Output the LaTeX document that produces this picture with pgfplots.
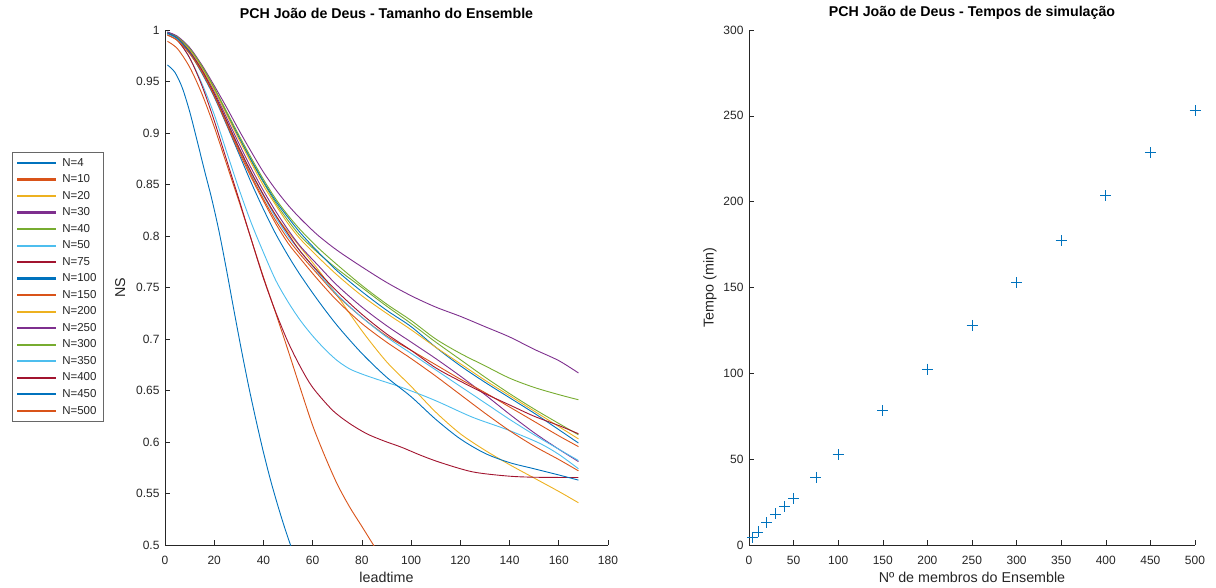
\documentclass[border=0pt]{standalone}
\usepackage{fontspec}
\setmainfont{Liberation Sans}
\usepackage{pgfplots}
\pgfplotsset{compat=1.18}
\definecolor{c1}{rgb}{0,0.447,0.741}
\definecolor{c2}{rgb}{0.85,0.325,0.098}
\definecolor{c3}{rgb}{0.929,0.694,0.125}
\definecolor{c4}{rgb}{0.494,0.184,0.556}
\definecolor{c5}{rgb}{0.466,0.674,0.188}
\definecolor{c6}{rgb}{0.301,0.745,0.933}
\definecolor{c7}{rgb}{0.635,0.078,0.184}
\definecolor{axgray}{rgb}{0.15,0.15,0.15}
\pgfplotsset{
  mystyle/.style={
    scale only axis,
    axis lines*=left,
    tick align=inside,
    axis line style={draw=axgray, line width=0.6pt},
    major tick length=5pt,
    every tick/.style={axgray, line width=0.6pt},
    ticklabel style={font=\fontsize{12}{14}\selectfont, text=axgray},
    xticklabel style={yshift=-8pt},
    yticklabel style={xshift=-2pt},
    label style={font=\fontsize{14.3}{16}\selectfont, text=axgray},
    title style={font=\bfseries\fontsize{14.2}{16}\selectfont, yshift=1.5pt},
    /pgf/number format/assume math mode=true,
    clip=true,
  }
}
\begin{document}
\begin{tikzpicture}[x=1pt,y=1pt]
\path[use as bounding box] (0,0) rectangle (1216,587);
\begin{axis}[mystyle,
  at={(165pt,42pt)}, anchor=south west,
  width=443pt, height=515pt,
  xmin=0, xmax=180, ymin=0.5, ymax=1,
  xtick={0,20,...,180},
  ytick={0.5,0.55,0.6,0.65,0.7,0.75,0.8,0.85,0.9,0.95,1},
  yticklabels={0.5,0.55,0.6,0.65,0.7,0.75,0.8,0.85,0.9,0.95,1},
  xlabel={leadtime}, ylabel={NS},
  ylabel style={yshift=4pt},
  title={PCH João de Deus - Tamanho do Ensemble},
  legend style={at={(-0.345,0.763)}, anchor=north west, draw=axgray!70, line width=0.5pt,
    font=\fontsize{11.5}{13}\selectfont, text=axgray,
    row sep=3.0pt, column sep=4pt, inner xsep=5pt, inner ysep=4pt,
    cells={anchor=west}},
  legend image code/.code={\fill[#1] (0pt,-0.6pt) rectangle (38pt,0.6pt);},
  every axis plot/.append style={line width=0.9pt, smooth, tension=0.5, no marks},
]
\addplot[color=c1] coordinates {(1,0.966)(4,0.959)(7,0.944)(10,0.921)(13,0.893)(16,0.864)(19,0.836)(22,0.804)(25,0.767)(28,0.728)(31,0.69)(34,0.654)(37,0.621)(40,0.59)(43,0.562)(46,0.537)(49,0.514)(52,0.493)};
\addlegendentry{N=4}
\addplot[color=c2] coordinates {(1,0.989)(5,0.982)(10,0.964)(15,0.938)(20,0.906)(25,0.87)(30,0.834)(35,0.797)(40,0.76)(45,0.725)(50,0.689)(55,0.652)(60,0.616)(65,0.586)(70,0.559)(75,0.537)(80,0.518)(86,0.495)};
\addlegendentry{N=10}
\addplot[color=c3] coordinates {(1,0.996)(5,0.991)(10,0.978)(15,0.96)(20,0.938)(25,0.912)(30,0.886)(35,0.862)(40,0.84)(45,0.82)(50,0.804)(55,0.789)(62,0.768)(70,0.742)(80,0.708)(90,0.678)(100,0.654)(110,0.629)(120,0.608)(130,0.592)(140,0.578)(150,0.565)(160,0.552)(168,0.541)};
\addlegendentry{N=20}
\addplot[color=c4] coordinates {(1,0.997)(5,0.992)(10,0.98)(15,0.962)(20,0.94)(25,0.915)(30,0.89)(35,0.866)(40,0.844)(45,0.824)(50,0.806)(55,0.79)(62,0.772)(70,0.752)(80,0.731)(90,0.713)(100,0.697)(110,0.681)(120,0.664)(130,0.646)(140,0.627)(150,0.609)(160,0.593)(168,0.581)};
\addlegendentry{N=30}
\addplot[color=c5] coordinates {(1,0.997)(5,0.993)(10,0.981)(15,0.964)(20,0.943)(25,0.92)(30,0.896)(35,0.873)(40,0.852)(45,0.832)(50,0.815)(55,0.80)(62,0.784)(70,0.768)(80,0.75)(90,0.732)(100,0.715)(110,0.697)(120,0.68)(130,0.663)(140,0.647)(150,0.632)(160,0.618)(168,0.607)};
\addlegendentry{N=40}
\addplot[color=c6] coordinates {(1,0.997)(5,0.991)(10,0.973)(15,0.948)(20,0.918)(25,0.882)(30,0.846)(35,0.813)(40,0.784)(45,0.757)(50,0.736)(55,0.718)(60,0.703)(65,0.69)(70,0.679)(75,0.671)(80,0.666)(86,0.661)(95,0.654)(105,0.645)(112,0.638)(125,0.624)(139,0.612)(152,0.599)(160,0.588)(168,0.574)};
\addlegendentry{N=50}
\addplot[color=c7] coordinates {(1,0.996)(5,0.99)(10,0.973)(15,0.946)(20,0.912)(25,0.874)(30,0.836)(35,0.797)(40,0.759)(45,0.726)(50,0.697)(55,0.673)(60,0.653)(68,0.631)(75,0.618)(82,0.608)(89,0.601)(96,0.595)(104,0.587)(112,0.58)(125,0.571)(139,0.567)(150,0.5658)(168,0.5655)};
\addlegendentry{N=75}
\addplot[color=c1] coordinates {(1,0.998)(5,0.993)(10,0.981)(15,0.964)(20,0.943)(25,0.919)(30,0.896)(35,0.874)(40,0.853)(45,0.834)(50,0.818)(55,0.803)(62,0.785)(70,0.766)(80,0.746)(90,0.728)(100,0.712)(110,0.692)(120,0.674)(130,0.658)(140,0.643)(150,0.628)(160,0.612)(168,0.599)};
\addlegendentry{N=100}
\addplot[color=c2] coordinates {(1,0.995)(5,0.99)(10,0.978)(15,0.96)(20,0.937)(25,0.91)(30,0.884)(35,0.859)(40,0.836)(45,0.815)(50,0.797)(55,0.782)(62,0.763)(70,0.742)(80,0.721)(90,0.703)(100,0.689)(110,0.675)(120,0.661)(130,0.648)(140,0.634)(150,0.62)(160,0.606)(168,0.5955)};
\addlegendentry{N=150}
\addplot[color=c3] coordinates {(1,0.997)(5,0.993)(10,0.981)(15,0.963)(20,0.942)(25,0.918)(30,0.894)(35,0.871)(40,0.849)(45,0.83)(50,0.812)(55,0.797)(62,0.78)(70,0.762)(80,0.742)(90,0.725)(100,0.709)(110,0.692)(120,0.676)(130,0.66)(140,0.645)(150,0.63)(160,0.615)(168,0.603)};
\addlegendentry{N=200}
\addplot[color=c4] coordinates {(1,0.998)(5,0.994)(10,0.983)(15,0.966)(20,0.946)(25,0.925)(30,0.903)(35,0.882)(40,0.862)(45,0.845)(50,0.83)(55,0.817)(62,0.801)(70,0.786)(80,0.77)(90,0.755)(100,0.742)(110,0.731)(120,0.722)(130,0.712)(140,0.702)(150,0.69)(160,0.679)(168,0.667)};
\addlegendentry{N=250}
\addplot[color=c5] coordinates {(1,0.997)(5,0.993)(10,0.982)(15,0.965)(20,0.944)(25,0.921)(30,0.898)(35,0.876)(40,0.855)(45,0.836)(50,0.82)(55,0.806)(62,0.789)(70,0.772)(80,0.752)(90,0.734)(100,0.718)(110,0.7)(120,0.686)(130,0.674)(140,0.662)(150,0.653)(160,0.646)(168,0.641)};
\addlegendentry{N=300}
\addplot[color=c6] coordinates {(1,0.996)(5,0.991)(10,0.979)(15,0.961)(20,0.938)(25,0.912)(30,0.886)(35,0.861)(40,0.839)(45,0.818)(50,0.8)(55,0.785)(62,0.765)(70,0.743)(80,0.721)(90,0.702)(100,0.686)(110,0.67)(120,0.654)(130,0.638)(140,0.622)(150,0.607)(160,0.593)(168,0.582)};
\addlegendentry{N=350}
\addplot[color=c7] coordinates {(1,0.997)(5,0.992)(10,0.979)(15,0.961)(20,0.938)(25,0.912)(30,0.886)(35,0.862)(40,0.84)(45,0.82)(50,0.802)(55,0.785)(62,0.766)(70,0.746)(80,0.724)(90,0.705)(100,0.689)(110,0.672)(120,0.659)(130,0.647)(140,0.636)(150,0.625)(160,0.616)(168,0.608)};
\addlegendentry{N=400}
\addplot[color=c1] coordinates {(1,0.997)(5,0.992)(10,0.978)(15,0.958)(20,0.935)(25,0.908)(30,0.88)(35,0.852)(40,0.826)(45,0.802)(50,0.781)(55,0.762)(62,0.738)(70,0.713)(80,0.686)(90,0.663)(100,0.644)(110,0.622)(120,0.603)(130,0.589)(140,0.58)(150,0.574)(160,0.568)(168,0.563)};
\addlegendentry{N=450}
\addplot[color=c2] coordinates {(1,0.995)(5,0.99)(10,0.977)(15,0.959)(20,0.936)(25,0.909)(30,0.882)(35,0.857)(40,0.834)(45,0.812)(50,0.793)(55,0.778)(62,0.758)(70,0.737)(80,0.715)(90,0.697)(100,0.681)(110,0.664)(120,0.646)(130,0.628)(140,0.611)(150,0.596)(160,0.583)(168,0.572)};
\addlegendentry{N=500}
\end{axis}
\begin{axis}[mystyle,
  at={(749pt,42pt)}, anchor=south west,
  width=446pt, height=515pt,
  xmin=0, xmax=500, ymin=0, ymax=300,
  xtick={0,50,...,500}, ytick={0,50,...,300},
  xlabel={Nº de membros do Ensemble}, ylabel={Tempo (min)},
  title={PCH João de Deus - Tempos de simulação},
]
\addplot[only marks, mark=+, mark size=5.5pt, color=c1, line width=0.8pt] coordinates {
(4,4.2)(10,7.6)(20,13.1)(30,18.1)(40,22.5)(50,27.2)(75,39.4)(100,52.7)(150,78.2)(200,102.4)(250,127.9)(300,152.7)(350,177.2)(400,203.5)(450,228.6)(500,253.0)};
\end{axis}
\end{tikzpicture}
\end{document}
